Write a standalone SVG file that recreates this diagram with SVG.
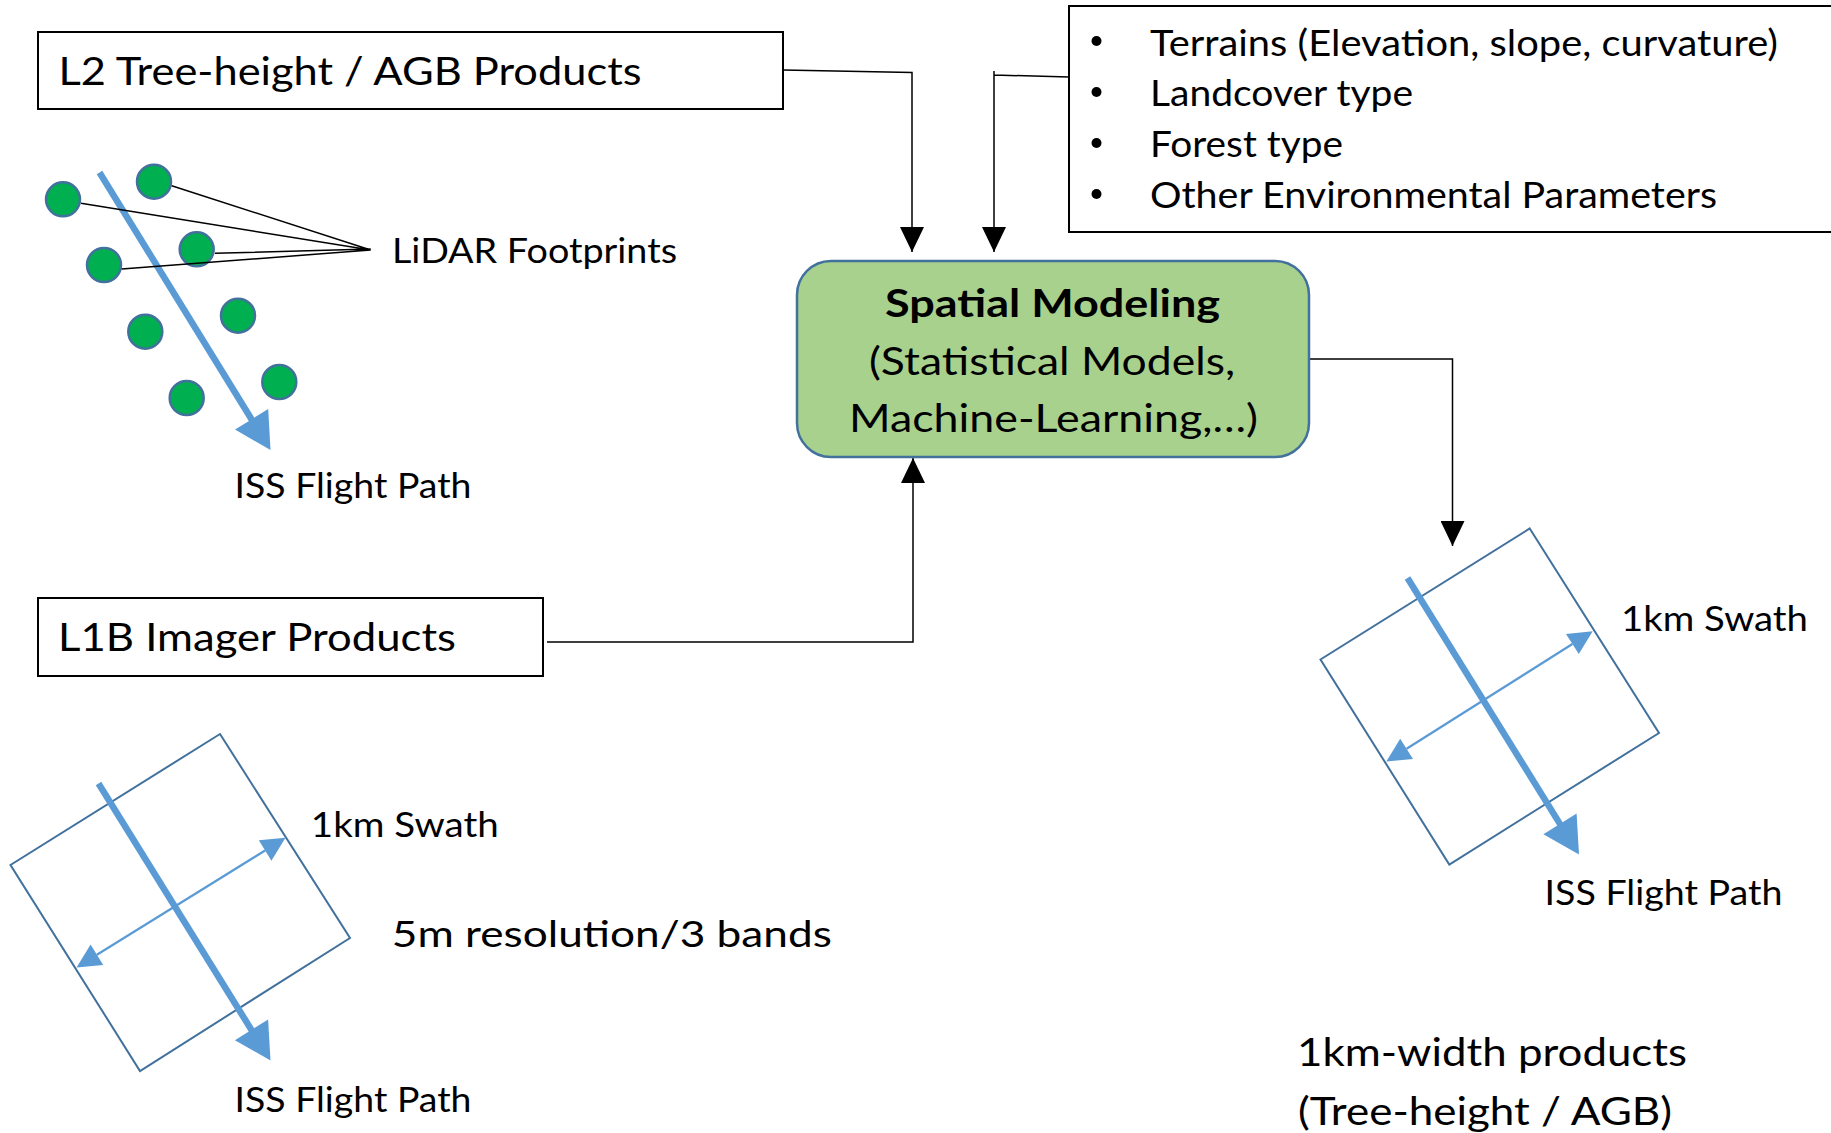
<svg xmlns="http://www.w3.org/2000/svg" width="1831" height="1133" viewBox="0 0 1831 1133">
  <style>
    text { font-family: Lato, "Liberation Sans", sans-serif; fill: #000; }
    .box { fill: #fff; stroke: #000; stroke-width: 2; }
    .conn { fill: none; stroke: #000; stroke-width: 1.5; }
    .lead { fill: none; stroke: #000; stroke-width: 1.5; }
    .dot { fill: #00B050; stroke: #41719C; stroke-width: 2.5; }
    .swath { fill: none; stroke: #41719C; stroke-width: 2; }
    .path { stroke: #5B9BD5; stroke-width: 6.5; fill: none; }
    .span { stroke: #5B9BD5; stroke-width: 2.2; fill: none; }
    .head { fill: #5B9BD5; stroke: none; }
    .t35 { font-size: 35px; }
    .t39 { font-size: 39px; }
  </style>
  <defs>
    <marker id="ah" markerUnits="userSpaceOnUse" viewBox="0 0 25 24" markerWidth="25" markerHeight="24" refX="25" refY="12" orient="auto">
      <path d="M0,0 L25,12 L0,24 Z" fill="#000"/>
    </marker>
  </defs>

  <rect width="1831" height="1133" fill="#fff"/>

  <!-- connectors -->
  <g id="connectors">
    <path class="conn" d="M783,70 L912,72.5 L912,252" marker-end="url(#ah)"/>
    <path class="conn" d="M1069,77 L994,75 M994,71 L994,252" marker-end="url(#ah)"/>
    <path class="conn" d="M1309,359 L1452.5,359 L1452.5,546" marker-end="url(#ah)"/>
    <path class="conn" d="M547,642 L913,642 L913,458" marker-end="url(#ah)"/>
  </g>

  <!-- L2 products box -->
  <g id="l2-products">
    <rect class="box" x="38" y="32" width="745" height="77"/>
    <text class="t39" x="58.5" y="85" textLength="583" lengthAdjust="spacingAndGlyphs">L2 Tree-height / AGB Products</text>
  </g>

  <!-- environmental inputs list -->
  <g id="env-inputs">
    <rect class="box" x="1069" y="6" width="780" height="226"/>
    <g fill="#000">
      <circle cx="1096.5" cy="41" r="5"/>
      <circle cx="1096.5" cy="92" r="5"/>
      <circle cx="1096.5" cy="143" r="5"/>
      <circle cx="1096.5" cy="194" r="5"/>
    </g>
    <g style="font-size:36px">
      <text x="1150" y="55.5" textLength="628" lengthAdjust="spacingAndGlyphs">Terrains (Elevation, slope, curvature)</text>
      <text x="1150" y="106" textLength="263" lengthAdjust="spacingAndGlyphs">Landcover type</text>
      <text x="1150" y="157" textLength="193" lengthAdjust="spacingAndGlyphs">Forest type</text>
      <text x="1150" y="208" textLength="567" lengthAdjust="spacingAndGlyphs">Other Environmental Parameters</text>
    </g>
  </g>

  <!-- spatial modeling node -->
  <g id="spatial-modeling">
    <rect x="797" y="261" width="512" height="196" rx="34" ry="34" fill="#A9D18E" stroke="#41719C" stroke-width="2.5"/>
    <text class="t39" x="885" y="317" font-weight="bold" textLength="335" lengthAdjust="spacingAndGlyphs">Spatial Modeling</text>
    <text class="t39" x="869" y="375" textLength="366" lengthAdjust="spacingAndGlyphs">(Statistical Models,</text>
    <text class="t39" x="849" y="432" textLength="409" lengthAdjust="spacingAndGlyphs">Machine-Learning,…)</text>
  </g>

  <!-- LiDAR footprints along the flight path -->
  <g id="lidar-footprints">
    <line class="path" x1="99.5" y1="172.5" x2="252.6" y2="421"/>
    <polygon class="head" points="270.5,450 268.2,409.1 235,429.6"/>
    <circle class="dot" cx="63" cy="199.3" r="17"/>
    <circle class="dot" cx="154" cy="181.7" r="17"/>
    <circle class="dot" cx="104" cy="265" r="17"/>
    <circle class="dot" cx="196.7" cy="249.3" r="17"/>
    <circle class="dot" cx="145.3" cy="331.7" r="17"/>
    <circle class="dot" cx="238" cy="315.7" r="17"/>
    <circle class="dot" cx="186.7" cy="398" r="17"/>
    <circle class="dot" cx="279.3" cy="382" r="17"/>
    <path class="lead" d="M171.7,185.7 L370.7,250 M81,203.3 L370.7,250 M215,253.3 L370.7,249 M121.7,269 L370.7,250"/>
    <text class="t35" x="392" y="263" textLength="285" lengthAdjust="spacingAndGlyphs">LiDAR Footprints</text>
    <text class="t35" x="234.5" y="498" textLength="237" lengthAdjust="spacingAndGlyphs">ISS Flight Path</text>
  </g>

  <!-- L1B imager products box -->
  <g id="l1b-products">
    <rect class="box" x="38" y="598" width="505" height="78"/>
    <text class="t39" x="58" y="651" textLength="398" lengthAdjust="spacingAndGlyphs">L1B Imager Products</text>
  </g>

  <!-- imager swath -->
  <g id="imager-swath">
    <polygon class="swath" points="220,734 350,938 140,1071 10.5,865"/>
    <line class="path" x1="98.5" y1="783.5" x2="252.5" y2="1031.6"/>
    <polygon class="head" points="270.5,1060.5 268.1,1019.6 234.9,1040.2"/>
    <line class="span" x1="96.9" y1="954.8" x2="265.1" y2="850.5"/>
    <polygon class="head" points="285.5,837.8 271.4,860.7 258.8,840.3"/>
    <polygon class="head" points="76.5,967.5 103.2,965 90.6,944.6"/>
    <text class="t35" x="310.8" y="837" textLength="188" lengthAdjust="spacingAndGlyphs">1km Swath</text>
    <text x="391.8" y="947" style="font-size:37px" textLength="440" lengthAdjust="spacingAndGlyphs">5m resolution/3 bands</text>
    <text class="t35" x="234.5" y="1112" textLength="237" lengthAdjust="spacingAndGlyphs">ISS Flight Path</text>
  </g>

  <!-- output product swath -->
  <g id="product-swath">
    <polygon class="swath" points="1529.7,528.5 1659,733 1449.3,864.5 1320.5,659.5"/>
    <line class="path" x1="1407.5" y1="578" x2="1561" y2="825.6"/>
    <polygon class="head" points="1579,854.5 1576.6,813.6 1543.4,834.2"/>
    <line class="span" x1="1406.6" y1="748.8" x2="1572.4" y2="644"/>
    <polygon class="head" points="1592.7,631.2 1578.8,654.1 1566,633.9"/>
    <polygon class="head" points="1386.3,761.6 1413,759 1400.2,738.7"/>
    <text class="t35" x="1621" y="631" textLength="187" lengthAdjust="spacingAndGlyphs">1km Swath</text>
    <text class="t35" x="1544.5" y="905" textLength="238" lengthAdjust="spacingAndGlyphs">ISS Flight Path</text>
    <text x="1297" y="1066" style="font-size:38px" textLength="390" lengthAdjust="spacingAndGlyphs">1km-width products</text>
    <text x="1298" y="1125" style="font-size:38px" textLength="374" lengthAdjust="spacingAndGlyphs">(Tree-height / AGB)</text>
  </g>
</svg>
